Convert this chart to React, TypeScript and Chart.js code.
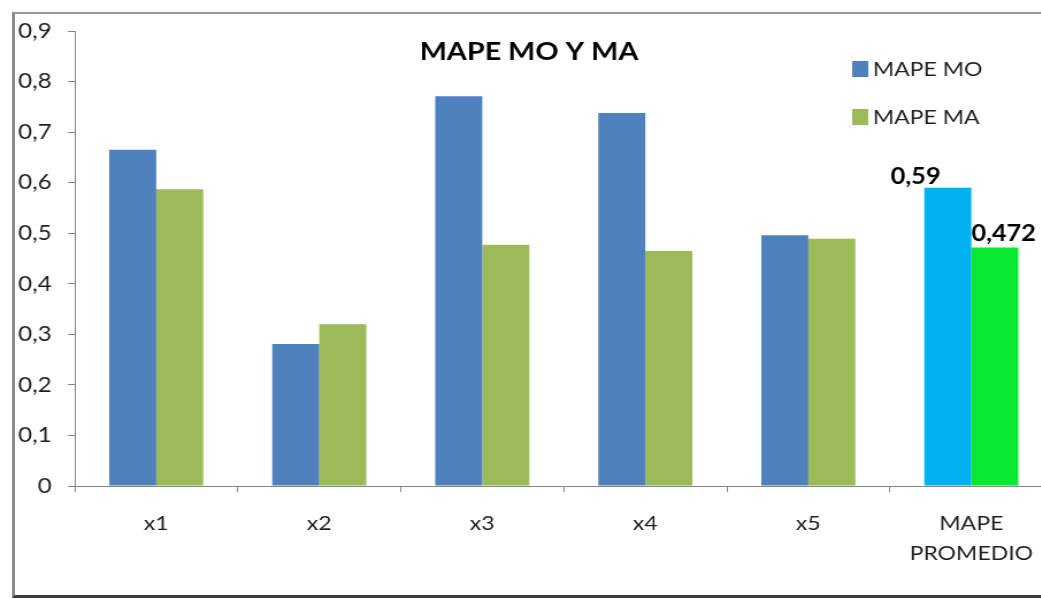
import React, { useEffect, useRef } from "react";
import { Chart, registerables } from "chart.js";

Chart.register(...registerables);

// ---- data ----
const categories: string[][] = [["x1"], ["x2"], ["x3"], ["x4"], ["x5"], ["MAPE", "PROMEDIO"]];
const mapeMO = [0.665, 0.281, 0.771, 0.738, 0.496, 0.59];
const mapeMA = [0.587, 0.32, 0.477, 0.465, 0.489, 0.472];
const seriesLabels = ["MAPE MO", "MAPE MA"];
const averageLabels = ["0,59", "0,472"];
const chartTitle = "MAPE MO Y MA";
const yMin = 0;
const yMax = 0.9;
const yStep = 0.1;

// ---- styles ----
const FONT = "Lato";
const STRETCH = 1.15;
const CANVAS_W = 922;
const CANVAS_H = 598;
const BLUE = "#4F81BD";
const GREEN = "#9BBB59";
const CYAN = "#00B0F0";
const BRIGHT_GREEN = "#08E830";
const AXIS = "#868686";
const TEXT = "#1e1e1e";

const moColors = mapeMO.map((_, i) => (i === mapeMO.length - 1 ? CYAN : BLUE));
const maColors = mapeMA.map((_, i) => (i === mapeMA.length - 1 ? BRIGHT_GREEN : GREEN));
const legendColors = [BLUE, GREEN];

const overlayPlugin = {
  id: "overlay",
  afterDraw(chart: any) {
    const ctx = chart.ctx as CanvasRenderingContext2D;
    ctx.save();
    // title
    ctx.fillStyle = "#000";
    ctx.font = `bold 25px ${FONT}`;
    ctx.textAlign = "center";
    ctx.textBaseline = "middle";
    ctx.fillText(chartTitle, 460, 52);

    // legend
    const rowsY = [69, 117];
    ctx.font = `20px ${FONT}`;
    ctx.textAlign = "left";
    seriesLabels.forEach((lab, i) => {
      ctx.fillStyle = legendColors[i];
      ctx.fillRect(741, rowsY[i] - 8, 14, 16);
      ctx.fillStyle = TEXT;
      ctx.fillText(lab, 759, rowsY[i] + 1);
    });

    // average data labels
    ctx.font = `bold 22px ${FONT}`;
    ctx.fillStyle = "#000";
    ctx.textBaseline = "alphabetic";
    const m0 = chart.getDatasetMeta(0).data;
    const m1 = chart.getDatasetMeta(1).data;
    const b0 = m0[m0.length - 1];
    const b1 = m1[m1.length - 1];
    ctx.textAlign = "center";
    ctx.fillText(averageLabels[0], b0.x - 28, b0.y - 4);
    ctx.textAlign = "left";
    ctx.fillText(averageLabels[1], b1.x - b1.width / 2, b1.y - 6);
    ctx.restore();
  },
};

export default function App() {
  const ref = useRef<HTMLCanvasElement | null>(null);

  useEffect(() => {
    if (!ref.current) return;
    const chart = new Chart(ref.current, {
      type: "bar",
      data: {
        labels: categories,
        datasets: [
          {
            label: seriesLabels[0],
            data: mapeMO,
            backgroundColor: moColors,
            borderWidth: 0,
            categoryPercentage: 0.577,
            barPercentage: 1,
          },
          {
            label: seriesLabels[1],
            data: mapeMA,
            backgroundColor: maColors,
            borderWidth: 0,
            categoryPercentage: 0.577,
            barPercentage: 1,
          },
        ],
      },
      options: {
        responsive: false,
        maintainAspectRatio: false,
        animation: false,
        devicePixelRatio: 1,
        layout: { padding: { top: 31, right: 6.5, left: 0, bottom: 0 } },
        plugins: {
          legend: { display: false },
          title: { display: false },
          tooltip: { enabled: false },
        },
        scales: {
          x: {
            offset: true,
            afterFit: (s: any) => {
              s.height = 112;
            },
            grid: {
              display: true,
              drawOnChartArea: false,
              drawTicks: true,
              tickLength: 6,
              color: AXIS,
              offset: true,
            },
            border: { display: true, color: AXIS, width: 1 },
            ticks: {
              color: TEXT,
              padding: 17,
              maxRotation: 0,
              autoSkip: false,
              font: { family: FONT, size: 20, lineHeight: 1.5 },
            },
          },
          y: {
            min: yMin,
            max: yMax,
            afterFit: (s: any) => {
              s.width = 65;
            },
            grid: {
              display: true,
              drawOnChartArea: false,
              drawTicks: true,
              tickLength: 6,
              color: AXIS,
            },
            border: { display: true, color: AXIS, width: 1 },
            ticks: {
              stepSize: yStep,
              color: TEXT,
              padding: 14,
              font: { family: FONT, size: 21 },
              callback: (v: any) => {
                const n = Number(v);
                return n === 0 ? "0" : n.toFixed(1).replace(".", ",");
              },
            },
          },
        },
      },
      plugins: [overlayPlugin],
    });
    return () => chart.destroy();
  }, []);

  return (
    <div
      style={{
        position: "fixed",
        left: 0,
        top: 0,
        width: 1041,
        height: 598,
        overflow: "hidden",
        background: "#fff",
      }}
    >
      <div
        style={{
          position: "absolute",
          left: 0,
          top: 0,
          width: CANVAS_W,
          height: CANVAS_H,
          transform: `scaleX(${STRETCH})`,
          transformOrigin: "0 0",
        }}
      >
        <canvas ref={ref} width={CANVAS_W} height={CANVAS_H} style={{ width: CANVAS_W, height: CANVAS_H }} />
      </div>
      <div
        style={{
          position: "absolute",
          left: 12,
          top: 12,
          width: 1100,
          height: 586,
          boxSizing: "border-box",
          borderLeft: "3px solid #8c8c8c",
          borderTop: "2px solid #999",
          borderBottom: "3px solid #3c3c3c",
          pointerEvents: "none",
        }}
      />
    </div>
  );
}
